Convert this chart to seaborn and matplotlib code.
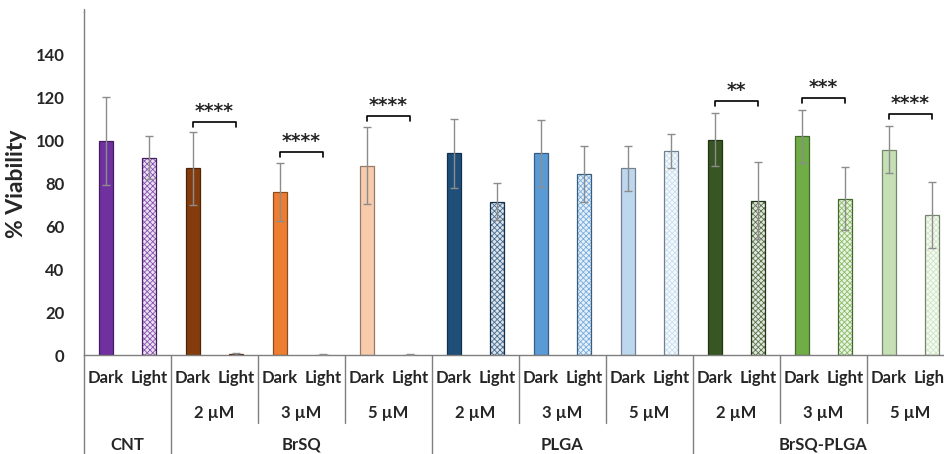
import numpy as np
import pandas as pd
import seaborn as sns
import matplotlib.pyplot as plt
from matplotlib.patches import Rectangle
from matplotlib.colors import to_rgb

# data
groups = ["CNT", "BrSQ", "BrSQ", "BrSQ", "PLGA", "PLGA", "PLGA", "BrSQ-PLGA", "BrSQ-PLGA", "BrSQ-PLGA"]
concs = ["", "2 µM", "3 µM", "5 µM", "2 µM", "3 µM", "5 µM", "2 µM", "3 µM", "5 µM"]
conditions = ["Dark", "Light"]
dark_mean = [100, 87, 76, 88.3, 94, 94, 87, 100.5, 102, 95.7]
dark_err = [20.5, 17, 13.5, 18, 16, 15.5, 10.5, 12.5, 12.5, 11]
light_mean = [92, 0.5, 0.2, 0.2, 71.5, 84.5, 95, 72, 73, 65.3]
light_err = [10, 0.3, 0.1, 0.1, 8.5, 13, 8, 18, 14.5, 15.5]
pair_colors = ["#7030A0", "#843C0C", "#ED7D31", "#F8CBAD", "#1F4E79", "#5B9BD5", "#BDD7EE",
               "#375623", "#70AD47", "#C5E0B4"]
signif = {1: "****", 2: "****", 3: "****", 7: "**", 8: "***", 9: "****"}
bracket_y = {1: 108.7, 2: 94.7, 3: 111.5, 7: 118.6, 8: 120, 9: 112.5}

rows = []
for i in range(len(groups)):
    rows.append({"bar": f"{i}D", "value": dark_mean[i], "err": dark_err[i], "pair": i, "cond": "Dark"})
    rows.append({"bar": f"{i}L", "value": light_mean[i], "err": light_err[i], "pair": i, "cond": "Light"})
df = pd.DataFrame(rows)

sns.set_style("white")
plt.rcParams["font.family"] = ["Lato", "DejaVu Sans"]
plt.rcParams["hatch.linewidth"] = 0.6

fig = plt.figure(figsize=(9.45, 4.54), dpi=100)
ax = fig.add_axes([84 / 945, 99 / 454, 870 / 945, 343 / 454])

palette = {}
for _, r in df.iterrows():
    palette[r["bar"]] = pair_colors[r["pair"]] if r["cond"] == "Dark" else "white"
sns.barplot(data=df, x="bar", y="value", hue="bar", palette=palette, width=0.32,
            legend=False, ax=ax, saturation=1, errorbar=None)

for patch, (_, r) in zip(list(ax.patches), df.iterrows()):
    c = pair_colors[r["pair"]]
    dark = np.array(to_rgb(c)) * 0.6
    if r["cond"] == "Dark":
        patch.set_edgecolor(dark)
        patch.set_linewidth(0.9)
    else:
        light = np.array(to_rgb(c)) * 0.15 + 0.85
        patch.set_facecolor(light)
        patch.set_edgecolor(np.array(to_rgb(c)) * 0.8 + 0.2 * light)
        patch.set_hatch("xxxxxx")
        patch.set_linewidth(0)
        ax.add_patch(Rectangle(patch.get_xy(), patch.get_width(), patch.get_height(),
                               fill=False, edgecolor=dark, lw=0.9, zorder=patch.get_zorder() + 0.1))

x = np.arange(len(df))
ax.errorbar(x, df["value"], yerr=df["err"], fmt="none", ecolor="#8c8c8c",
            elinewidth=1, capsize=3, capthick=1, zorder=5)

# significance brackets
for p, stars in signif.items():
    yb = bracket_y[p]
    x0, x1 = 2 * p, 2 * p + 1
    ax.plot([x0, x0, x1, x1], [yb - 2.5, yb, yb, yb - 2.5], color="black", lw=1.2, clip_on=False)
    ax.text((x0 + x1) / 2, yb + 0.5, stars, ha="center", va="bottom", fontsize=13.5,
            fontweight="bold", fontfamily="DejaVu Sans")

ax.set_xlim(-0.5, 19.5)
ax.set_ylim(0, 160)
ax.set_yticks(range(0, 141, 20))
ax.tick_params(axis="y", length=0, labelsize=12, pad=14)
for t in ax.get_yticklabels():
    t.set_fontweight("bold")
ax.set_xticks([])
ax.set_xlabel("")
ax.set_ylabel("% Viability", fontsize=16.5, fontweight="bold", labelpad=6)
for s in ["top", "right"]:
    ax.spines[s].set_visible(False)
for s in ["left", "bottom"]:
    ax.spines[s].set_color("#7f7f7f")
    ax.spines[s].set_linewidth(1)

# category labels under the axis
tr = ax.get_xaxis_transform()
for i in range(len(df)):
    ax.text(i, -0.067, df["cond"][i], transform=tr, ha="center", va="center",
            fontsize=12, fontweight="bold")
for p in range(len(groups)):
    if concs[p]:
        ax.text(2 * p + 0.5, -0.169, concs[p], transform=tr, ha="center", va="center",
                fontsize=12, fontweight="bold")
group_names = ["CNT", "BrSQ", "PLGA", "BrSQ-PLGA"]
group_pos = [0.5, 4.5, 10.5, 16.5]
for name, xp in zip(group_names, group_pos):
    ax.text(xp, -0.262, name, transform=tr, ha="center", va="center",
            fontsize=12, fontweight="bold")

for xb in [-0.5, 1.5, 7.5, 13.5, 19.5]:
    ax.plot([xb, xb], [0, -0.3], transform=tr, color="#7f7f7f", lw=1, clip_on=False)
for xb in [3.5, 5.5, 9.5, 11.5, 15.5, 17.5]:
    ax.plot([xb, xb], [0, -0.198], transform=tr, color="#7f7f7f", lw=1, clip_on=False)
ax.plot([-0.5, -0.5], [1, 1.01], transform=tr, color="#7f7f7f", lw=1, clip_on=False)

fig.savefig("out.png", dpi=100)
